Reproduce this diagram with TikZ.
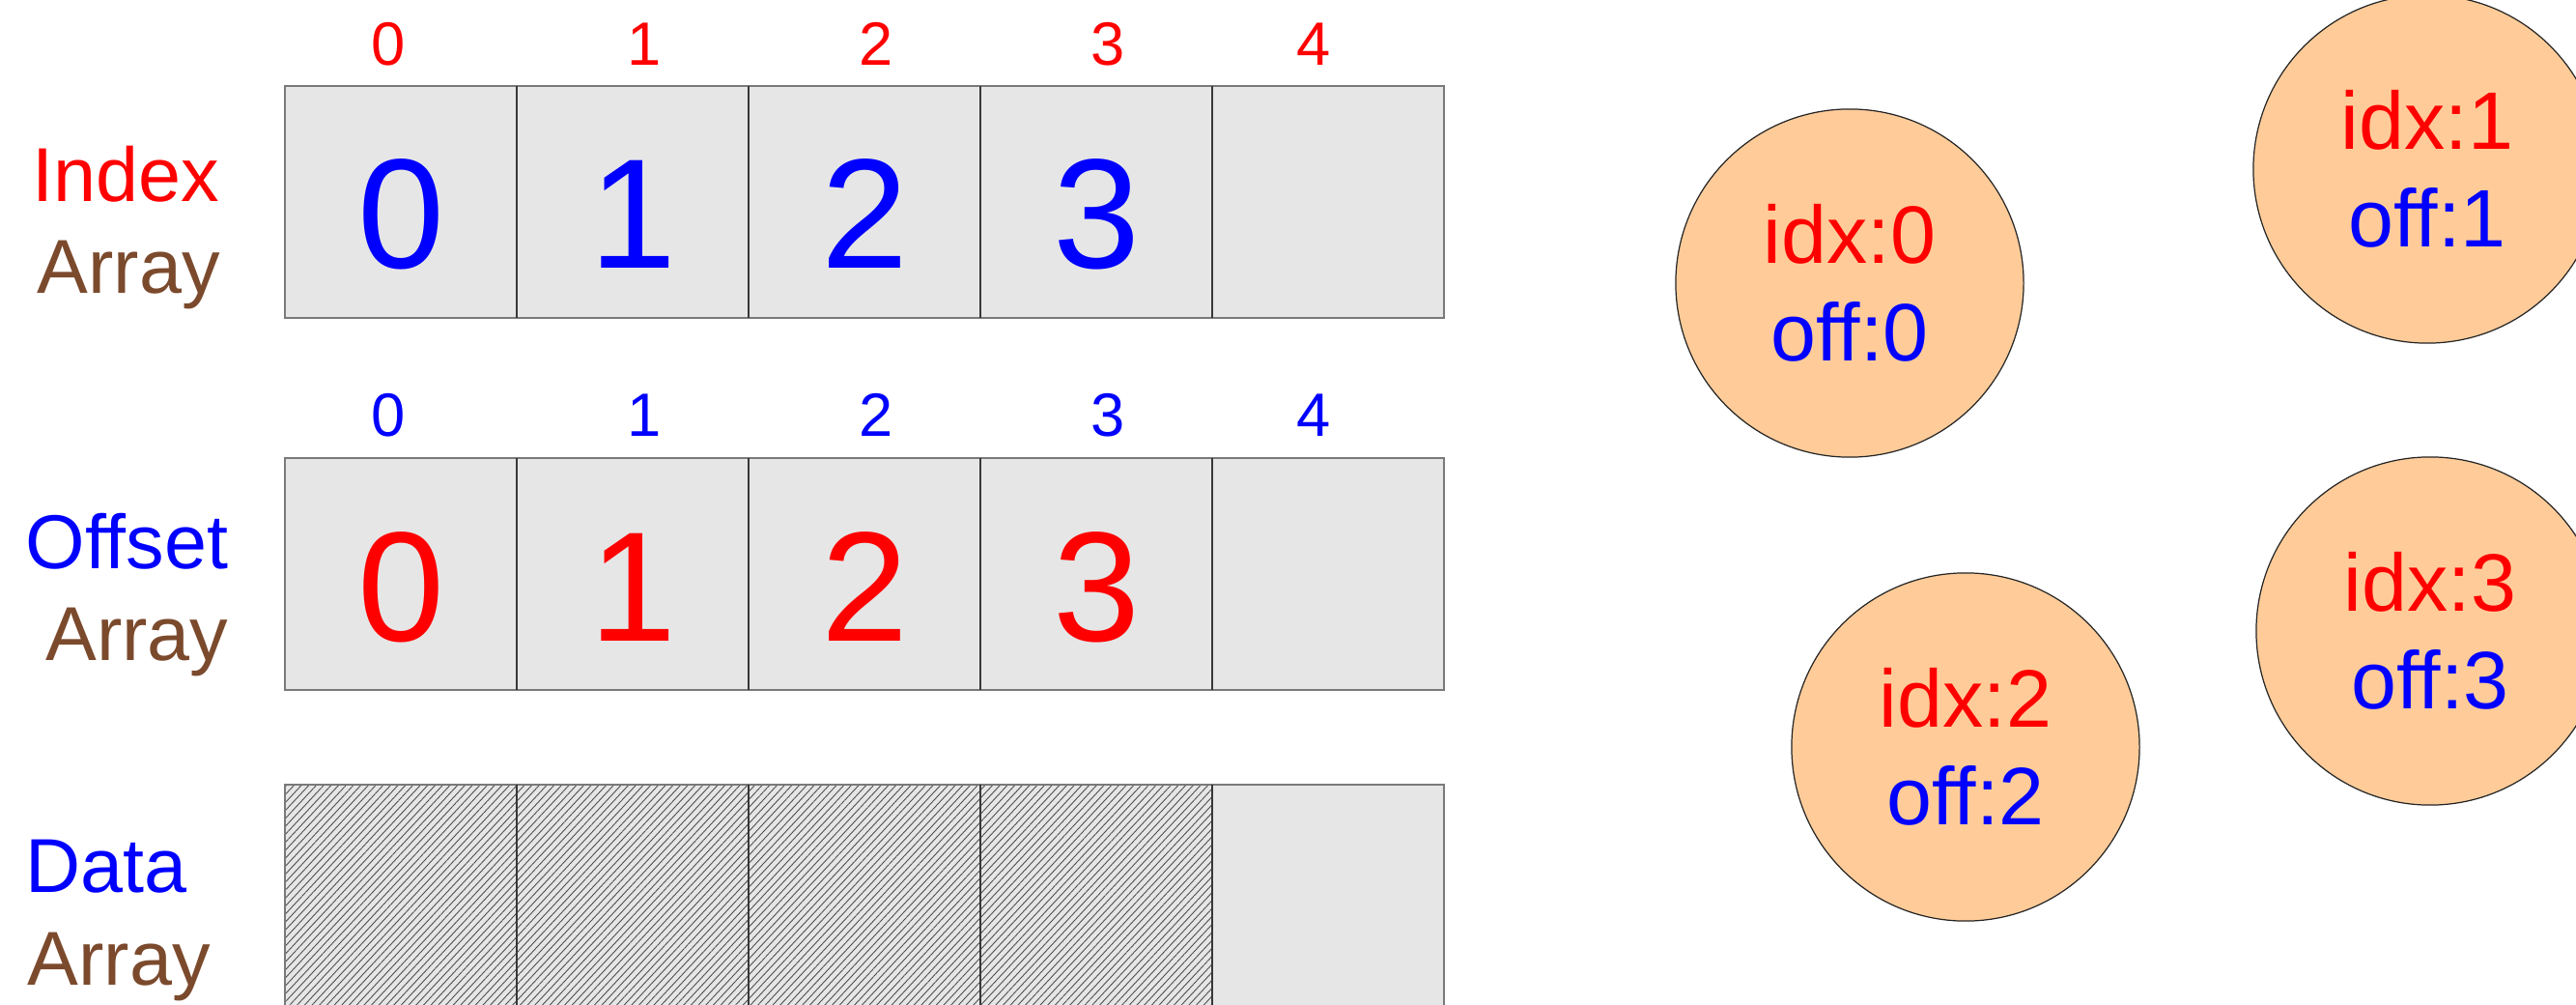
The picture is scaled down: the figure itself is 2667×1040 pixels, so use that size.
\documentclass[tikz,border=0pt]{standalone}
\usepackage{fontspec}
\setmainfont{Liberation Sans}
\usepackage{tikz}
\usetikzlibrary{patterns.meta}
\definecolor{IdxRed}{HTML}{FF0000}
\definecolor{OffBlue}{HTML}{0000FF}
\definecolor{ArrBrown}{HTML}{7B4A2D}
\definecolor{CellGray}{HTML}{E6E6E6}
\definecolor{CellEdge}{HTML}{7A7A7A}
\definecolor{CellSep}{HTML}{383838}
\definecolor{SlotPeach}{HTML}{FFCC99}

\begin{document}
\begin{tikzpicture}[x=.01cm,y=-.01cm,
  cell/.style={fill=CellGray,minimum size=2.4cm,inner sep=0,outer sep=0},
  hatched/.style={cell,postaction={pattern={Lines[angle=47,distance=1.6pt,line width=.25pt]},pattern color=black!70}},
  bignum/.style={font=\fontsize{46}{50}\selectfont,anchor=base,inner sep=0},
  colnum/.style={font=\fontsize{18}{20}\selectfont,anchor=base,inner sep=0},
  sidelabel/.style={font=\fontsize{22.5}{26}\selectfont,inner sep=0},
  slot/.style={circle,draw=black!85,line width=.35pt,fill=SlotPeach,minimum size=3.6cm,inner sep=0,align=center,font=\fontsize{24}{28.7}\selectfont}]
  \useasboundingbox (0,0) rectangle (2667,1040);
  \clip (0,0) rectangle (2667,1040);

  \foreach \i in {0,...,4} {
    \node[cell] (idx\i) at (415+240*\i,209) {};
    \node[cell] (off\i) at (415+240*\i,594) {};
  }
  \foreach \i in {0,...,3}
    \node[hatched] (dat\i) at (415+240*\i,932) {};
  \node[cell] (dat4) at (1375,932) {};

  \foreach \r in {idx,off,dat} {
    \draw[CellEdge,line width=.7pt] (\r0.north west) rectangle (\r4.south east);
    \foreach \i in {1,...,4}
      \draw[CellSep,line width=.5pt] (\r\i.north west) -- (\r\i.south west);
  }

  \foreach \i in {0,...,3} {
    \node[bignum,OffBlue] (idxval\i) at (415+240*\i,278) {\i};
    \node[bignum,IdxRed] (offval\i) at (415+240*\i,663) {\i};
  }
  \foreach \x [count=\k from 0] in {402,667,907,1147,1360} {
    \node[colnum,IdxRed] (idxnum\k) at (\x,68) {\k};
    \node[colnum,OffBlue] (offnum\k) at (\x,452) {\k};
  }

  \node[sidelabel,IdxRed,anchor=base west] (idxname) at (33,209) {Index};
  \node[sidelabel,ArrBrown,anchor=base west] (idxarr) at (38,304) {Array};
  \node[sidelabel,OffBlue,anchor=base east] (offname) at (237,588) {Offset};
  \node[sidelabel,ArrBrown,anchor=base east] (offarr) at (237,683) {Array};
  \node[sidelabel,OffBlue,anchor=base west] (datname) at (26,923) {Data};
  \node[sidelabel,ArrBrown,anchor=base west] (datarr) at (28,1019) {Array};

  \node[slot] (slot0) at (1915,293) {\textcolor{IdxRed}{idx:0}\\\textcolor{OffBlue}{off:0}};
  \node[slot] (slot1) at (2513,175) {\textcolor{IdxRed}{idx:1}\\\textcolor{OffBlue}{off:1}};
  \node[slot] (slot2) at (2035,773) {\textcolor{IdxRed}{idx:2}\\\textcolor{OffBlue}{off:2}};
  \node[slot] (slot3) at (2516,653) {\textcolor{IdxRed}{idx:3}\\\textcolor{OffBlue}{off:3}};
\end{tikzpicture}
\end{document}
